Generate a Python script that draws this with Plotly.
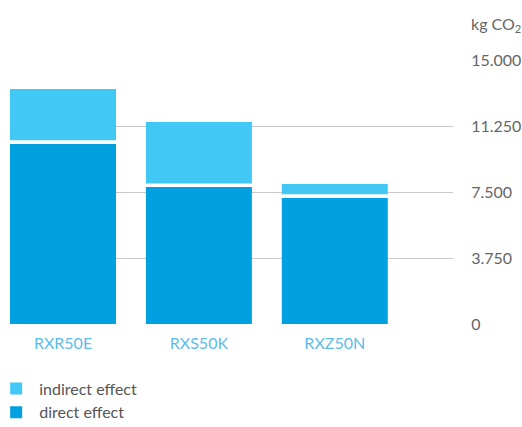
import plotly.graph_objects as go

categories = ["RXR50E", "RXS50K", "RXZ50N"]
direct_effect = [10230, 7780, 7160]
indirect_effect = [3120, 3700, 800]
y_ticks = [0, 3750, 7500, 11250, 15000]

LIGHT = "#42c8f4"
DARK = "#00a0e1"
FONT = "Lato"
GAP = 210  # visual white gap between stacked segments (data units)

base_ind = [d + GAP for d in direct_effect]
top_ind = [i - GAP for i in indirect_effect]

fig = go.Figure()
fig.add_trace(go.Bar(
    x=categories, y=top_ind, base=base_ind, name="indirect effect",
    marker=dict(color=LIGHT, line=dict(width=0)), width=0.78,
))
fig.add_trace(go.Bar(
    x=categories, y=direct_effect, name="direct effect",
    marker=dict(color=DARK, line=dict(width=0)), width=0.78,
))

fig.update_layout(
    width=522, height=427,
    margin=dict(l=10, r=69, t=60, b=103, autoexpand=False),
    paper_bgcolor="white", plot_bgcolor="white",
    barmode="overlay",
    separators=",.",
    font=dict(family=FONT, size=15, color="#666666"),
    showlegend=True,
    legend=dict(
        x=-0.038, y=-0.18, xanchor="left", yanchor="top",
        orientation="v", traceorder="normal", itemwidth=36,
        font=dict(family=FONT, size=16, color="#555555"),
        bgcolor="rgba(0,0,0,0)", tracegroupgap=0,
    ),
    xaxis=dict(
        type="category", range=[-0.39, 2.87],
        showgrid=False, showline=False, zeroline=False,
        ticks="outside", ticklen=5, tickcolor="rgba(0,0,0,0)",
        tickfont=dict(family=FONT, size=16, color="#5bbce9"),
    ),
    yaxis=dict(
        side="right", range=[0, 15000], tickvals=y_ticks, tickformat=",d",
        showgrid=True, gridcolor="#c8c8c8", gridwidth=1,
        zeroline=False, showline=False,
        ticks="outside", ticklen=14, tickcolor="rgba(0,0,0,0)",
        tickfont=dict(family=FONT, size=16, color="#666666"),
    ),
    annotations=[dict(
        x=1.036, y=1.135, xref="paper", yref="paper", xanchor="left", yanchor="middle",
        text="kg CO<sub>2</sub>", showarrow=False,
        font=dict(family=FONT, size=16, color="#666666"),
    )],
)

fig.write_html("out.html", config={"displayModeBar": False},
               post_script="document.body.style.margin='0';")
